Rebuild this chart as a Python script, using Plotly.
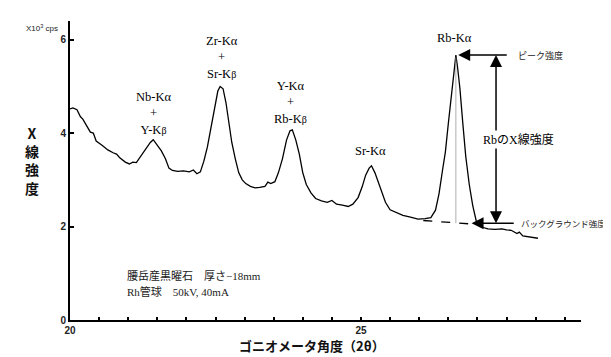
import plotly.graph_objects as go

# Spectrum (goniometer angle 2θ, intensity x10^3 cps)
angle = [20.00, 20.05, 20.12, 20.18, 20.22, 20.27, 20.35, 20.40, 20.45, 20.55, 20.65, 20.74, 20.80,
         20.85, 20.95, 21.02, 21.08, 21.14, 21.22, 21.30, 21.38, 21.43, 21.50, 21.57, 21.64,
         21.70, 21.76, 21.85, 21.95, 22.05, 22.12, 22.18, 22.24, 22.30, 22.36, 22.42, 22.48,
         22.54, 22.58, 22.63, 22.68, 22.73, 22.78, 22.84, 22.90, 22.96, 23.02, 23.10, 23.18,
         23.26, 23.35, 23.40, 23.45, 23.52, 23.58, 23.65, 23.72, 23.78, 23.82, 23.88, 23.94,
         24.00, 24.06, 24.14, 24.22, 24.32, 24.42, 24.50, 24.58, 24.68, 24.78, 24.86, 24.95,
         25.02, 25.08, 25.14, 25.18, 25.24, 25.30, 25.36, 25.42, 25.50, 25.60, 25.72, 25.85,
         25.98, 26.10, 26.20, 26.28, 26.34, 26.40, 26.45, 26.50, 26.56, 26.60, 26.63, 26.66,
         26.70, 26.75, 26.80, 26.86, 26.92, 26.98, 27.04, 27.10, 27.18, 27.30, 27.42, 27.50,
         27.58, 27.68, 27.72, 27.78, 27.90, 28.04]
intensity = [4.52, 4.54, 4.50, 4.35, 4.30, 4.18, 4.02, 4.00, 3.83, 3.74, 3.64, 3.58, 3.55,
             3.48, 3.38, 3.34, 3.38, 3.37, 3.52, 3.66, 3.80, 3.86, 3.75, 3.62, 3.45,
             3.25, 3.20, 3.18, 3.19, 3.17, 3.21, 3.13, 3.17, 3.40, 3.70, 4.10, 4.55,
             4.90, 5.00, 4.95, 4.65, 4.20, 3.80, 3.45, 3.15, 3.00, 2.92, 2.86, 2.83,
             2.84, 2.86, 2.95, 2.92, 2.96, 3.15, 3.45, 3.85, 4.05, 4.07, 3.85, 3.55,
             3.15, 2.90, 2.72, 2.60, 2.55, 2.52, 2.56, 2.48, 2.46, 2.43, 2.48, 2.62,
             2.85, 3.10, 3.25, 3.30, 3.15, 2.95, 2.72, 2.52, 2.36, 2.30, 2.24, 2.20,
             2.16, 2.17, 2.19, 2.35, 2.70, 3.20, 3.60, 4.20, 4.85, 5.40, 5.67, 5.40,
             4.95, 4.20, 3.50, 2.90, 2.45, 2.12, 2.03, 1.98, 1.95, 1.94, 1.95, 1.93,
             1.92, 1.85, 1.88, 1.80, 1.78, 1.75]

# Peak labels
peak_labels = ["Nb-Kα<br>+<br>Y-K<span style='font-size:10px'>β</span>",
               "Zr-Kα<br>+<br>Sr-K<span style='font-size:10px'>β</span>",
               "Y-Kα<br>+<br>Rb-K<span style='font-size:10px'>β</span>",
               "Sr-Kα",
               "Rb-Kα"]
label_x = [21.43, 22.61, 23.78, 25.17, 26.60]
label_y = [4.43, 5.61, 4.65, 3.62, 6.04]

# Rb measurement annotation values
rb_peak_x = 26.63
rb_peak_y = 5.67
bg_y = 2.07
arrow_x = 27.32
base_start = (26.07, 2.13)

x_ticks = [20 + 0.5 * i for i in range(18)]
x_ticktext = ["20" if v == 20 else ("25" if v == 25 else "") for v in x_ticks]
y_ticks = [0, 2, 4, 6]

fig = go.Figure()
fig.add_trace(go.Scatter(x=angle, y=intensity, mode="lines",
                         line=dict(color="black", width=1.3), showlegend=False,
                         hoverinfo="skip"))

serif = "Liberation Serif, Noto Sans CJK JP, serif"
annotations = []
for t, xv, yv in zip(peak_labels, label_x, label_y):
    annotations.append(dict(x=xv, y=yv, xref="x", yref="y", text=t, showarrow=False,
                            font=dict(family=serif, size=12.5, color="black"),
                            align="center", xanchor="center", yanchor="middle"))

arrow_common = dict(xref="x", yref="y", axref="x", ayref="y", text="", showarrow=True,
                    arrowhead=2, arrowsize=1.6, arrowwidth=1.5, arrowcolor="black",
                    standoff=0, startstandoff=0)
mid_y = (rb_peak_y + bg_y) / 2
# peak intensity arrow (horizontal)
annotations.append(dict(x=rb_peak_x + 0.04, y=rb_peak_y, ax=27.53, ay=rb_peak_y, **arrow_common))
# vertical double arrow
annotations.append(dict(x=arrow_x, y=rb_peak_y, ax=arrow_x, ay=mid_y, **arrow_common))
annotations.append(dict(x=arrow_x, y=bg_y, ax=arrow_x, ay=mid_y, **arrow_common))
# background arrow (horizontal)
annotations.append(dict(x=26.90, y=bg_y, ax=27.65, ay=bg_y, **arrow_common))

annotations.append(dict(x=27.70, y=mid_y, xref="x", yref="y", text="RbのX線強度",
                        showarrow=False, bgcolor="white",
                        font=dict(family=serif, size=12, color="black")))
annotations.append(dict(x=27.67, y=rb_peak_y, xref="x", yref="y", text="ピーク強度",
                        showarrow=False, xanchor="left",
                        font=dict(family="Noto Sans CJK JP", size=9, color="#222")))
annotations.append(dict(x=27.72, y=bg_y, xref="x", yref="y", text="バックグラウンド強度",
                        showarrow=False, xanchor="left",
                        font=dict(family="Noto Sans CJK JP", size=8.5, color="#222")))

# sample info
annotations.append(dict(x=20.945, y=0.96, xref="x", yref="y", text="腰岳産黒曜石　厚さ−18mm",
                        showarrow=False, xanchor="left",
                        font=dict(family=serif, size=11, color="#222")))
annotations.append(dict(x=20.945, y=0.62, xref="x", yref="y", text="Rh管球　50kV, 40mA",
                        showarrow=False, xanchor="left",
                        font=dict(family=serif, size=11, color="#222")))

# axis titles
annotations.append(dict(x=-0.092, y=0.535, xref="paper", yref="paper",
                        text="<b>X<br>線<br>強<br>度</b>", showarrow=False,
                        font=dict(family="Noto Sans CJK JP", size=14, color="#111")))
annotations.append(dict(x=0.474, y=-0.124, xref="paper", yref="paper",
                        text="<b>ゴニオメータ角度（2θ）</b>", showarrow=False,
                        font=dict(family="Noto Sans CJK JP", size=13, color="#111")))
annotations.append(dict(x=-0.02, y=1.0, xref="paper", yref="paper",
                        text="X10<sup>3</sup> cps", showarrow=False, xanchor="right",
                        font=dict(family="Liberation Sans", size=8, color="#222")))

shapes = [
    dict(type="line", xref="x", yref="y", x0=rb_peak_x, x1=rb_peak_x, y0=rb_peak_y - 0.05, y1=bg_y,
         line=dict(color="#999", width=0.8)),
    dict(type="line", xref="x", yref="y", x0=base_start[0], y0=base_start[1], x1=26.95, y1=bg_y - 0.02,
         line=dict(color="black", width=1.3, dash="dash")),
]

fig.update_layout(
    width=611, height=357,
    margin=dict(l=62, r=38, t=13, b=45),
    paper_bgcolor="white", plot_bgcolor="white",
    annotations=annotations, shapes=shapes,
    xaxis=dict(range=[20, 28.78], tickvals=x_ticks, ticktext=x_ticktext, ticks="inside",
               ticklen=3, tickwidth=1.5, tickcolor="black", showline=True, linecolor="black",
               linewidth=2, showgrid=False, zeroline=False,
               tickfont=dict(family="Liberation Sans", size=10, color="#222", weight="bold")),
    yaxis=dict(range=[0, 6.4], tickvals=y_ticks, ticks="inside", ticklen=4, tickwidth=1.5,
               tickcolor="black", showline=True, linecolor="black", linewidth=2,
               showgrid=False, zeroline=False,
               tickfont=dict(family="Liberation Sans", size=10, color="#222", weight="bold")),
)

fig.write_html("out.html")
